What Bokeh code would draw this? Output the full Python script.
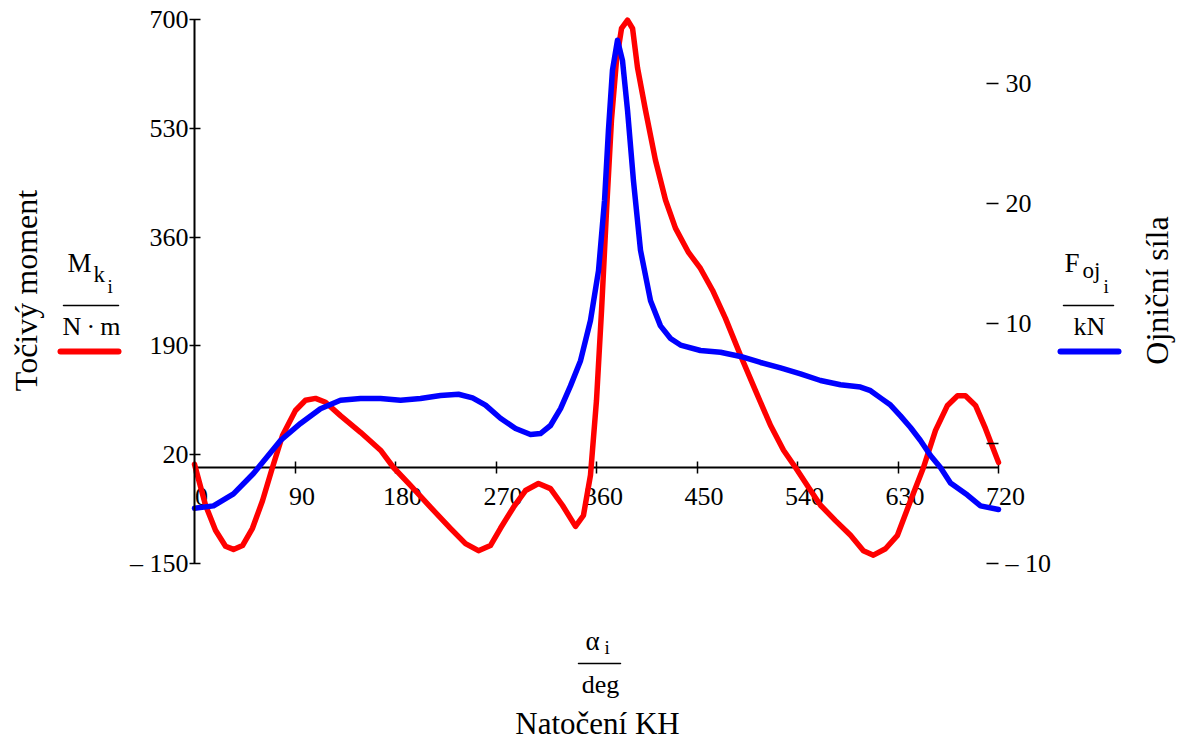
import numpy as np
from bokeh.plotting import figure
from bokeh.models import Range1d, LinearAxis, FixedTicker, Label, Arrow
from bokeh.embed import file_html
from bokeh.resources import INLINE

# ---- data ----
angle_red = [0, 9.9, 18.8, 27.8, 34.9, 43, 51.9, 60.9, 69.8, 78.8, 90.4, 99.4, 108.4, 117.3,
             130.7, 148.7, 166.6, 178.2, 193.4, 211.3, 229.2, 242.7, 254.3, 265, 274, 285.7,
             296.4, 308, 318.8, 329.5, 341.2, 348.3, 354.6, 360, 364.5, 369, 373.4, 377.9,
             382.4, 387.8, 392.3, 396.7, 403.9, 412.8, 421.8, 430.7, 442.4, 453.1, 463.9,
             475.5, 489, 502.4, 515.8, 527.5, 538.2, 549.8, 560.6, 574, 587.5, 599, 608,
             618.8, 629.5, 641.2, 652.8, 663.6, 674.3, 683.3, 690.4, 699.4, 708.3, 720]
torque = [5, -59, -98, -123, -128, -122, -95, -52, 0, 50, 89, 105, 108, 102,
          81, 55, 27, 0, -28, -62, -95, -119, -130, -122, -95, -62,
          -36, -25, -33, -59, -92, -75, -12, 105, 245, 402, 543, 636,
          686, 699, 686, 625, 558, 480, 418, 374, 336, 311, 277,
          233, 175, 120, 66, 27, 0, -31, -59, -83, -106, -130, -137,
          -127, -106, -52, 0, 58, 97, 112, 112, 97, 61, 8]

angle_blue = [0, 17, 34.9, 52.8, 77, 94.9, 112.8, 130.7, 148.7, 166.6, 184.5, 202.4, 220.3,
              236.4, 249, 260.6, 274, 287.5, 300.9, 309.8, 318.8, 327.8, 336.7, 345.7,
              354.6, 361.8, 367.2, 370.7, 374.3, 378.8, 383.3, 387.8, 393.1, 399.4, 408.4,
              417.3, 426.3, 435.2, 453.1, 471, 489, 506.9, 524.8, 542.7, 560.6, 578.5,
              596.4, 605.4, 614.3, 623.3, 632.2, 641.2, 650.1, 659.1, 668, 677, 692.2,
              703.9, 720]
force = [-5.4, -5.2, -4.2, -2.5, 0.25, 1.67, 2.9, 3.6, 3.75, 3.75, 3.6, 3.75, 4.0,
         4.1, 3.8, 3.2, 2.1, 1.25, 0.75, 0.83, 1.5, 2.9, 4.8, 6.9,
         10.25, 14.4, 20.25, 26.1, 31.1, 33.6, 31.9, 27.75, 21.9, 16.1, 11.9,
         9.8, 8.75, 8.2, 7.75, 7.6, 7.25, 6.75, 6.3, 5.8, 5.25, 4.9,
         4.7, 4.4, 3.8, 3.2, 2.3, 1.33, 0.25, -1.0, -2.0, -3.3, -4.3,
         -5.2, -5.5]

x_ticks = [0, 90, 180, 270, 360, 450, 540, 630, 720]
left_ticks = [-150, 20, 190, 360, 530, 700]
left_tick_labels = ["– 150", "20", "190", "360", "530", "700"]
right_ticks = [-10, 0, 10, 20, 30]
right_tick_labels = ["– 10", "", "10", "20", "30"]

X_MIN, X_MAX = 0, 720
L_MIN, L_MAX = -150, 700
R_MIN, R_MAX = -10, 35.33

FONT = "Liberation Serif"
RED = "#FF0000"
BLUE = "#0000FF"

W, H = 1179, 749
# plot box in canvas pixels
PX0, PX1, PY0, PY1 = 194, 998, 19, 563
SX = (PX1 - PX0) / (X_MAX - X_MIN)
SY = (PY1 - PY0) / (L_MAX - L_MIN)


def dx(px):
    return X_MIN + (px - PX0) / SX


def dy(py):
    return L_MAX - (py - PY0) / SY


def to_right(v):
    return R_MIN + (v - L_MIN) * (R_MAX - R_MIN) / (L_MAX - L_MIN)


# the frame fills the whole canvas; ranges extended so the data box sits at the plot box
p = figure(width=W, height=H,
           x_range=Range1d(dx(0), dx(W)), y_range=Range1d(dy(H), dy(0)),
           x_axis_location=None, y_axis_location=None,
           output_backend="svg", toolbar_location=None,
           min_border=0, min_border_left=0, min_border_right=0,
           min_border_top=0, min_border_bottom=0)
p.outline_line_color = None
p.xgrid.grid_line_color = None
p.ygrid.grid_line_color = None
p.background_fill_color = "white"
p.border_fill_color = "white"

p.extra_y_ranges = {"force": Range1d(to_right(dy(H)), to_right(dy(0)))}
shift = 7 / SX
p.extra_x_ranges = {"xlab": Range1d(dx(0) - shift, dx(W) - shift)}

common = dict(major_label_text_font=FONT, major_label_text_font_size="26px",
              major_label_text_color="black", minor_tick_line_color=None)

ya = LinearAxis(fixed_location=X_MIN, bounds=(L_MIN, L_MAX),
                ticker=FixedTicker(ticks=left_ticks),
                major_label_overrides=dict(zip(left_ticks, left_tick_labels)),
                axis_line_width=2, axis_line_color="black",
                major_tick_in=6, major_tick_out=5, major_tick_line_width=1.5,
                major_label_standoff=1, **common)
p.add_layout(ya, "left")

ra = LinearAxis(y_range_name="force", fixed_location=X_MAX, bounds=(R_MIN, R_MAX),
                ticker=FixedTicker(ticks=right_ticks),
                major_label_overrides=dict(zip(right_ticks, right_tick_labels)),
                axis_line_color=None, major_tick_in=12, major_tick_out=0,
                major_tick_line_width=1.5, major_label_standoff=7, **common)
p.add_layout(ra, "right")

xa = LinearAxis(fixed_location=0, bounds=(X_MIN, X_MAX), ticker=FixedTicker(ticks=x_ticks),
                axis_line_width=2, axis_line_color="black",
                major_tick_in=6, major_tick_out=6, major_tick_line_width=1.5,
                major_label_text_alpha=0, major_label_text_font_size="26px",
                minor_tick_line_color=None, level="underlay")
p.add_layout(xa, "below")

xl = LinearAxis(x_range_name="xlab", fixed_location=0, bounds=(X_MIN, X_MAX),
                ticker=FixedTicker(ticks=x_ticks),
                axis_line_color=None, major_tick_line_color=None,
                major_label_standoff=14, level="underlay", **common)
p.add_layout(xl, "below")

p.line(angle_red, torque, line_color=RED, line_width=5.5, line_join="round", line_cap="round")
p.line(angle_blue, force, y_range_name="force", line_color=BLUE, line_width=5.5,
       line_join="round", line_cap="round")


# ---- annotations (positions given in canvas pixels, mapped to data) ----
def txt(px, base, text, size, align="left", angle=0):
    # base: baseline in canvas pixels; placed via the middle of the text box
    ymid = base - 0.34 * size
    p.add_layout(Label(x=dx(px), y=dy(ymid), text=text,
                       text_font=FONT, text_font_size=f"{size}px", text_color="black",
                       text_align=align, text_baseline="middle", angle=angle))


def vtxt(cx, cy, text, size):
    p.add_layout(Label(x=dx(cx), y=dy(cy), text=text,
                       text_font=FONT, text_font_size=f"{size}px", text_color="black",
                       text_align="center", text_baseline="middle", angle=np.pi / 2))


def seg(x0, x1, py, color, width):
    p.add_layout(Arrow(x_start=dx(x0), y_start=dy(py), x_end=dx(x1), y_end=dy(py),
                       start=None, end=None, line_color=color, line_width=width,
                       line_cap="round"))


# left title and legend
vtxt(25, 290, "Točivý moment", 32)
txt(67, 272, "M", 27)
txt(93, 282, "k", 23)
txt(107, 292, "i", 19)
seg(63, 118, 305, "black", 1.5)
txt(91, 335, "N\u2009·\u2009m", 26, align="center")
seg(60, 118, 351, RED, 6)

# right title and legend
vtxt(1156, 290, "Ojniční síla", 32)
txt(1064, 272, "F", 27)
txt(1082, 278, "oj", 23)
txt(1103, 292, "i", 19)
seg(1063, 1113, 305, "black", 1.5)
txt(1089, 335, "kN", 26, align="center")
seg(1060, 1118, 351, BLUE, 6)

# x title
txt(585, 650, "α", 27)
txt(604, 653, "i", 19)
seg(578, 620, 663, "black", 1.5)
txt(600, 693, "deg", 26, align="center")
txt(597, 734, "Natočení KH", 31, align="center")

open("out.html", "w").write(file_html(p, INLINE))
